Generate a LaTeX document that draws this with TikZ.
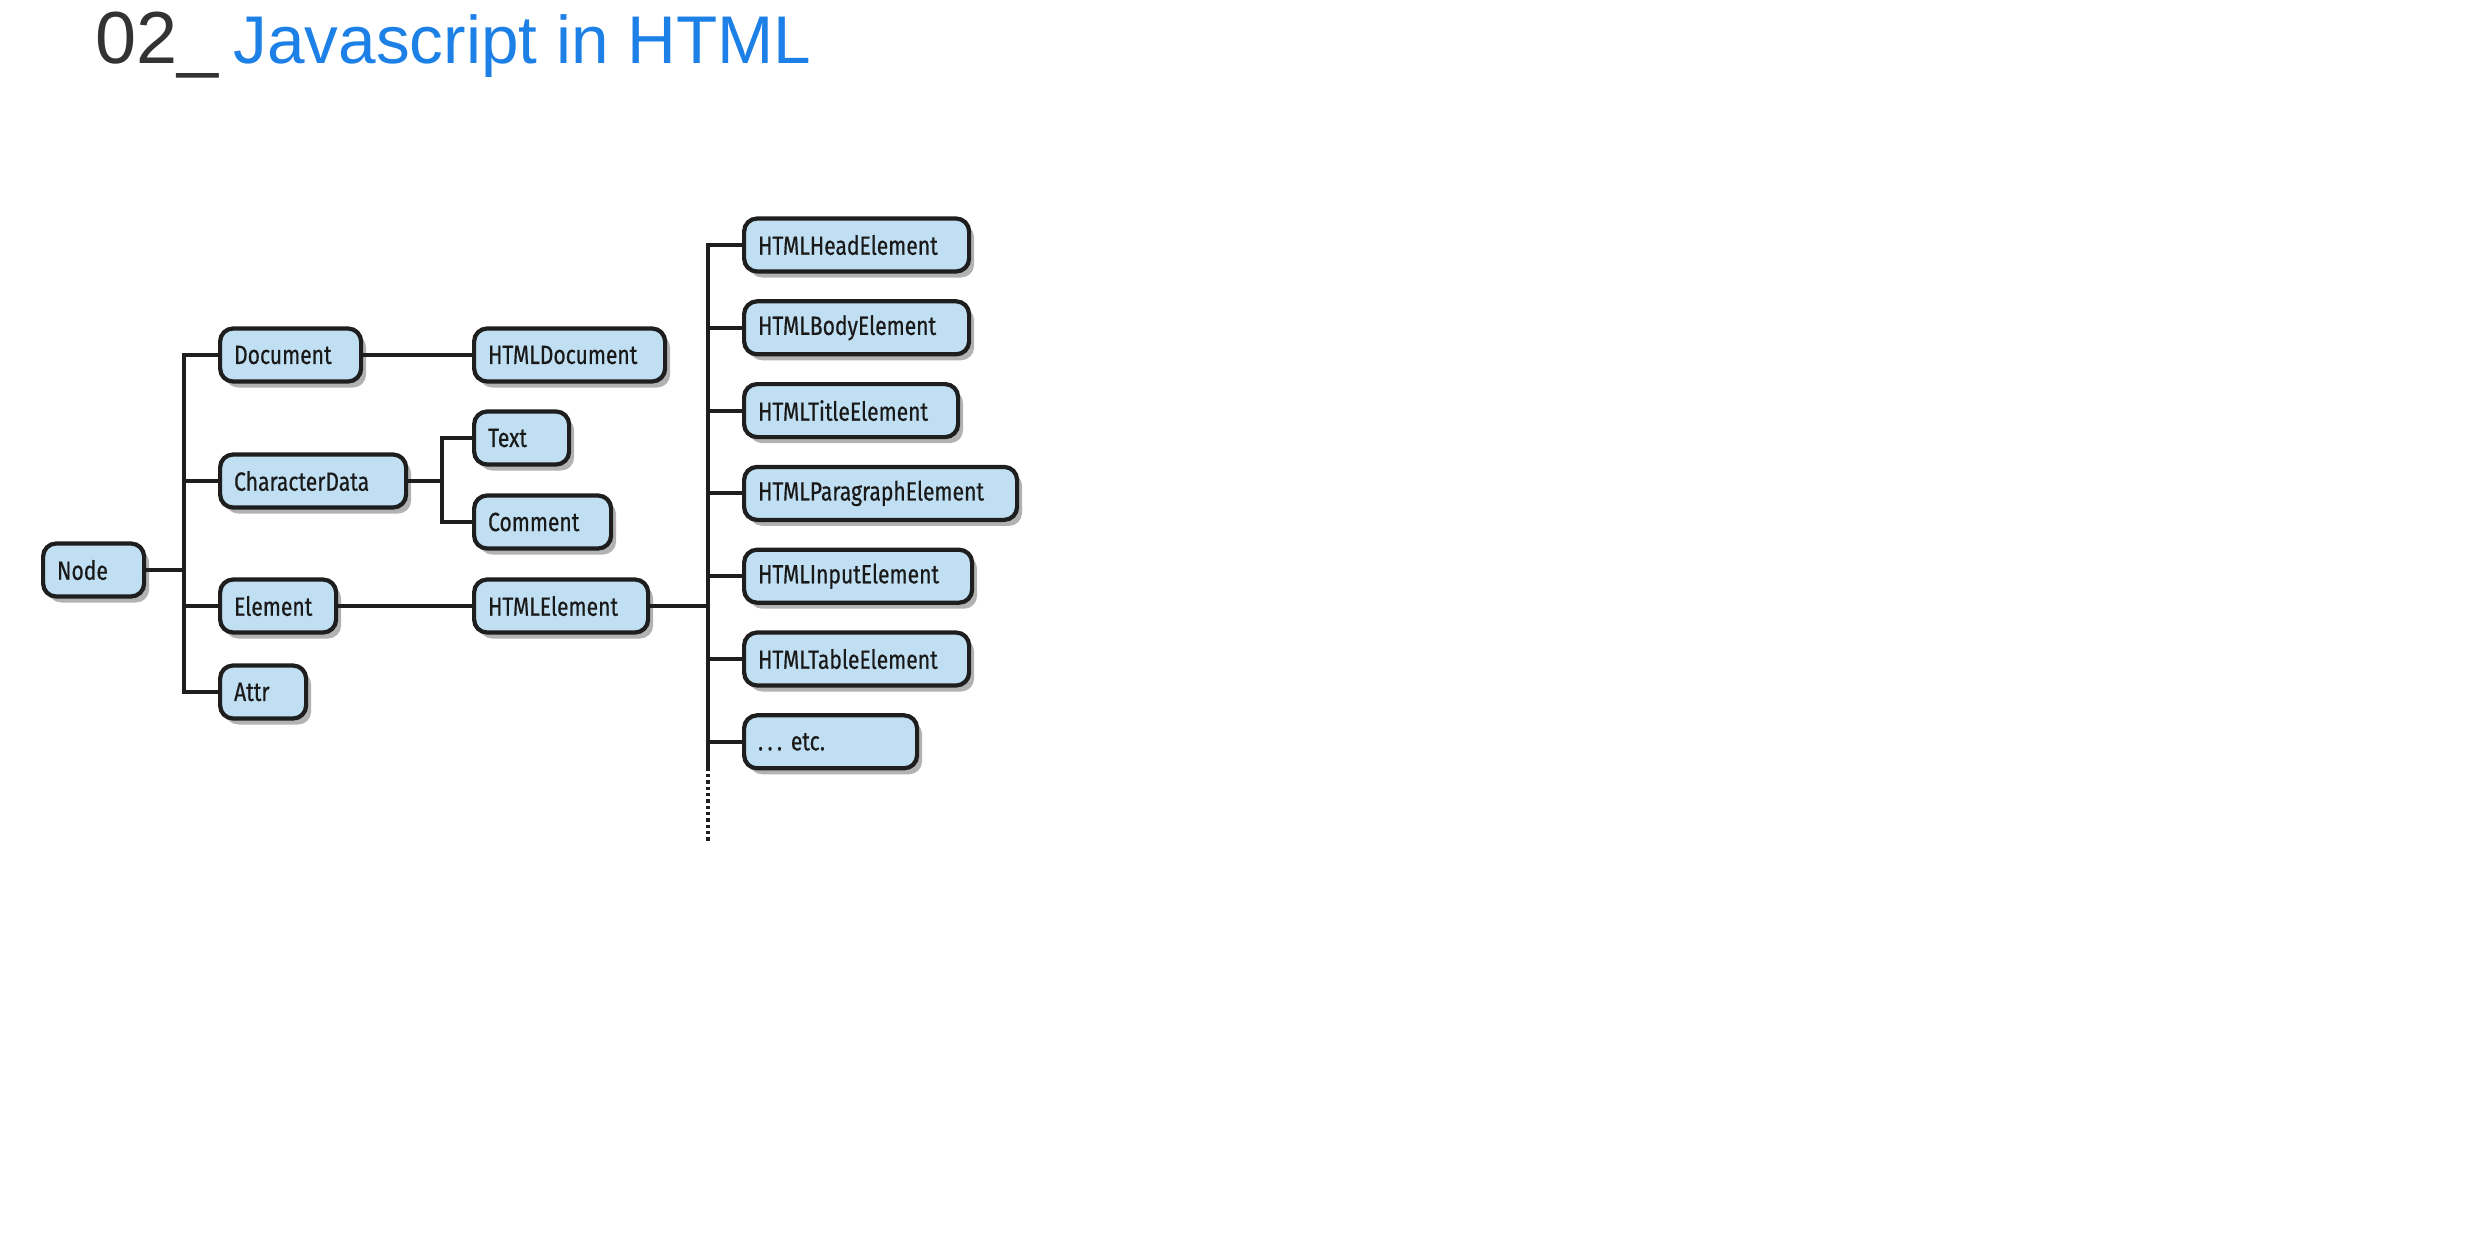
\documentclass[tikz,border=0pt]{standalone}
\usepackage{fontspec}
\setmainfont{Liberation Sans}
\newfontfamily\boxfont[FakeStretch=0.8,FakeBold=0.5]{Fira Sans}
\usetikzlibrary{shadows,calc}
\definecolor{boxblue}{HTML}{C0DFF2}
\definecolor{titleblue}{HTML}{1C80E6}
\definecolor{titlegray}{HTML}{333333}
\definecolor{edge}{HTML}{1E1E1E}
\tikzset{tbox/.style={draw=edge,line width=1.2pt,fill=boxblue,rounded corners=0.13cm,
    minimum height=0.53cm,inner xsep=0.14cm,anchor=west,align=left,
    font=\boxfont\fontsize{7.5pt}{9pt}\selectfont,text=black!90,
    drop shadow={shadow xshift=0.05cm,shadow yshift=-0.06cm,fill=black,opacity=0.3}},
  cls/.style={tbox,text width=#1},
  link/.style={draw=edge,line width=1.1pt}}

\begin{document}
\begin{tikzpicture}
  \useasboundingbox (0,0) rectangle (24.82,-12.40);
  % title
  \node[anchor=base west,inner sep=0,text=titlegray,font=\fontsize{21pt}{24pt}\selectfont] (num) at (0.95,-0.63) {02\_};
  \node[anchor=base west,inner sep=0,text=titleblue,font=\fontsize{19.2pt}{22pt}\selectfont] (ttl) at (2.33,-0.63) {Javascript in HTML};
  % trunks
  \coordinate (t1) at (1.84,0);
  \coordinate (t2) at (4.42,0);
  \coordinate (t3) at (7.08,0);
  % classes
  \node[cls=0.73cm] (nd) at (0.41,-5.70) {Node};
  \node[cls=1.13cm] (doc) at (2.18,-3.55) {Document};
  \node[cls=1.58cm] (cdata) at (2.18,-4.81) {CharacterData};
  \node[cls=0.88cm] (elem) at (2.18,-6.06) {Element};
  \node[cls=0.58cm] (attr) at (2.18,-6.92) {Attr};
  \node[cls=1.63cm] (hdoc) at (4.72,-3.55) {HTMLDocument};
  \node[cls=0.67cm] (txt) at (4.72,-4.38) {Text};
  \node[cls=1.09cm] (cmt) at (4.72,-5.22) {Comment};
  \node[cls=1.46cm] (helem) at (4.72,-6.06) {HTMLElement};
  \foreach \name/\w [count=\i] in {HTMLHeadElement/1.97,HTMLBodyElement/1.97,
      HTMLTitleElement/1.86,HTMLParagraphElement/2.45,HTMLInputElement/2.0,
      HTMLTableElement/1.97,{.\,.\,.\ etc.}/1.45}
    \node[cls=\w cm] (h\i) at (7.42,{-2.45-0.828*(\i-1)}) {\name};
  % links
  \path[link] (nd.east) -- (nd.east -| t1);
  \path[link] (doc.west) -- (doc.west -| t1) -- (attr.west -| t1) -- (attr.west);
  \path[link] (cdata.west) -- (cdata.west -| t1);
  \path[link] (elem.west) -- (elem.west -| t1);
  \path[link] (doc.east) -- (hdoc.west);
  \path[link] (cdata.east) -- (cdata.east -| t2);
  \path[link] (txt.west) -- (txt.west -| t2) -- (cmt.west -| t2) -- (cmt.west);
  \path[link] (elem.east) -- (helem.west);
  \path[link] (helem.east) -- (helem.east -| t3);
  \path[link] (h1.west) -- (h1.west -| t3) -- ($(h7.west -| t3)+(0,-0.26)$) coordinate (dotstart);
  \path[link,dash pattern=on 0.9pt off 0.9pt] (dotstart) -- ++(0,-0.74) coordinate (dotend);
  \foreach \i in {2,...,7}
    \path[link] (h\i.west) -- (h\i.west -| t3);
\end{tikzpicture}
\end{document}
